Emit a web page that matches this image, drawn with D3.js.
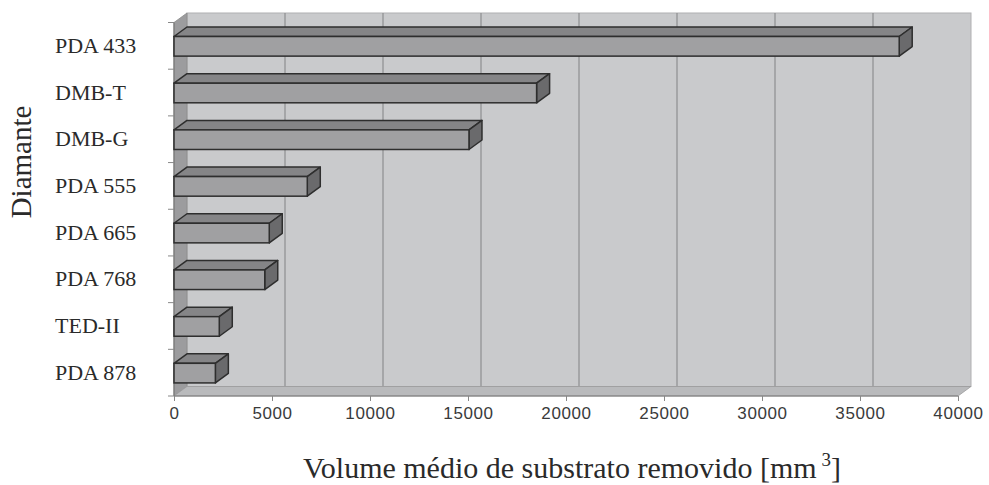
<!DOCTYPE html>
<html><head><meta charset="utf-8">
<script src="https://cdn.jsdelivr.net/npm/d3@7"></script>
<style>body{margin:0;background:#fff}svg{display:block}</style>
</head><body>
<svg id="c" width="989" height="485"></svg>
<script>
const categories = ["PDA 433","DMB-T","DMB-G","PDA 555","PDA 665","PDA 768","TED-II","PDA 878"];
const values = [37000, 18500, 15050, 6800, 4860, 4630, 2310, 2110];
const xTicks = [0,5000,10000,15000,20000,25000,30000,35000,40000];
const xTitle = "Volume médio de substrato removido [mm";
const xTitleSup = "3";
const yTitle = "Diamante";

const svg = d3.select("#c");
const x0 = 174, x1 = 958, yTop = 22.5, yBot = 396;
const dx = 13, dy = 9.5;
const x = d3.scaleLinear().domain([0,40000]).range([x0,x1]);
const y = d3.scaleBand().domain(categories).range([yTop,yBot]).padding(0);

// back wall
svg.append("rect").attr("x",x0+dx).attr("y",yTop-dy).attr("width",x1-x0).attr("height",yBot-yTop)
  .attr("fill","#c9cacc").attr("stroke","#b0b0b2").attr("stroke-width",1);
// gridlines on back wall
svg.selectAll(".grid").data(xTicks.slice(1,-1)).enter().append("line")
  .attr("x1",d=>x(d)+dx).attr("x2",d=>x(d)+dx).attr("y1",yTop-dy).attr("y2",yBot-dy)
  .attr("stroke","#8e8e90").attr("stroke-width",1.2);
// left wall
svg.append("path").attr("d",`M${x0},${yTop}L${x0+dx},${yTop-dy}L${x0+dx},${yBot-dy}L${x0},${yBot}Z`)
  .attr("fill","#9c9c9e").attr("stroke","#8a8a8a").attr("stroke-width",0.8);
// floor
svg.append("path").attr("d",`M${x0},${yBot}L${x0+dx},${yBot-dy}L${x1+dx},${yBot-dy}L${x1},${yBot}Z`)
  .attr("fill","#b9babc").attr("stroke","#9a9a9c").attr("stroke-width",0.8);
// axis lines
svg.append("line").attr("x1",x0).attr("x2",x1).attr("y1",yBot).attr("y2",yBot).attr("stroke","#7a7a7a").attr("stroke-width",1.2);
svg.append("line").attr("x1",x0).attr("x2",x0).attr("y1",yTop).attr("y2",yBot).attr("stroke","#7a7a7a").attr("stroke-width",1.2);

// bottom axis
const xAxis = d3.axisBottom(x).tickValues(xTicks).tickSize(5).tickPadding(6).tickFormat(d3.format("d"));
const gx = svg.append("g").attr("transform",`translate(0,${yBot})`).call(xAxis);
gx.select(".domain").remove();
gx.selectAll("line").attr("stroke","#888");
gx.selectAll("text").attr("font-family","'Liberation Sans', Arial, sans-serif").attr("font-size",17)
  .attr("letter-spacing","0.6px").attr("fill","#3a3a3a");

// left ticks
const yTickPos = categories.map(c=>y(c)).concat([yBot]);
svg.selectAll(".yt").data(yTickPos).enter().append("line")
  .attr("x1",x0-6).attr("x2",x0).attr("y1",d=>d).attr("y2",d=>d).attr("stroke","#888").attr("stroke-width",1);

// category labels
svg.selectAll(".cl").data(categories).enter().append("text")
  .attr("x",55).attr("y",d=>y(d)+y.bandwidth()/2+7)
  .attr("font-family","'Liberation Serif','Times New Roman',serif").attr("font-size",22).attr("fill","#2a2a2a")
  .text(d=>d);

// bars
const bw = y.bandwidth();
const fTop = 0.30*bw, fH = 0.42*bw;
const g = svg.append("g");
categories.forEach((c,i)=>{
  const xv = x(values[i]);
  const yt = y(c)+fTop, yb = yt+fH;
  g.append("path").attr("d",`M${x0},${yt}L${x0+dx},${yt-dy}L${xv+dx},${yt-dy}L${xv},${yt}Z`)
    .attr("fill","#858587").attr("stroke","#2e2e2e").attr("stroke-width",1.5).attr("stroke-linejoin","round");
  g.append("path").attr("d",`M${xv},${yt}L${xv+dx},${yt-dy}L${xv+dx},${yb-dy}L${xv},${yb}Z`)
    .attr("fill","#6a6a6c").attr("stroke","#2e2e2e").attr("stroke-width",1.5).attr("stroke-linejoin","round");
  g.append("rect").attr("x",x0).attr("y",yt).attr("width",xv-x0).attr("height",fH)
    .attr("fill","#a0a0a2").attr("stroke","#2e2e2e").attr("stroke-width",1.5);
});

// titles
const xt = svg.append("text").attr("x",303).attr("y",478)
  .attr("font-family","'Liberation Serif','Times New Roman',serif").attr("font-size",30).attr("fill","#2a2a2a");
xt.append("tspan").text(xTitle);
xt.append("tspan").attr("dx",5).attr("dy",-12).attr("font-size",19).text(xTitleSup);
xt.append("tspan").attr("dy",12).text("]");

svg.append("text").attr("transform","translate(31,162) rotate(-90)").attr("text-anchor","middle")
  .attr("font-family","'Liberation Serif','Times New Roman',serif").attr("font-size",29).attr("fill","#2a2a2a")
  .text(yTitle);
</script>
</body></html>
